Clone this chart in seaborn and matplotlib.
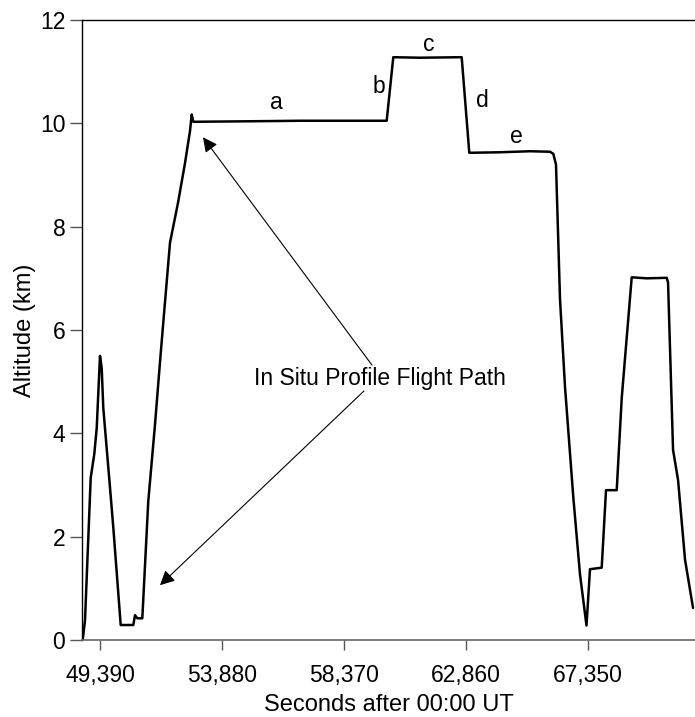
import pandas as pd
import seaborn as sns
import matplotlib.pyplot as plt

sns.set_theme(style="ticks")
plt.rcParams["font.family"] = ["Liberation Sans", "DejaVu Sans"]
plt.rcParams["text.color"] = "black"
plt.rcParams["axes.labelcolor"] = "black"
plt.rcParams["xtick.labelcolor"] = "black"
plt.rcParams["ytick.labelcolor"] = "black"

# flight track
seconds = [48753, 48838, 49048, 49180, 49269, 49390, 49453, 49511, 49758, 49879,
           50152, 50615, 50678, 50763, 50947, 51167, 51414, 51598, 51782, 51966,
           52260, 52518, 52702, 52765, 52823, 54910, 56750, 58590, 59940, 60183,
           61166, 62700, 62980, 64110, 65214, 65950, 66072, 66171, 66318, 66502,
           66808, 67054, 67293, 67422, 67853, 68011, 68405, 68589, 68957, 69510,
           70246, 70294, 70478, 70662, 70920, 71214]
altitude = [0.0, 0.38, 3.14, 3.6, 4.1, 5.5, 5.26, 4.49, 2.95, 2.18,
            0.29, 0.29, 0.48, 0.42, 0.42, 2.69, 4.17, 5.38, 6.54, 7.69,
            8.46, 9.23, 9.85, 10.17, 10.03, 10.04, 10.05, 10.05, 10.05, 11.28,
            11.27, 11.28, 9.43, 9.44, 9.46, 9.45, 9.41, 9.2, 6.6, 4.9,
            2.76, 1.27, 0.28, 1.37, 1.4, 2.9, 2.9, 4.68, 7.02, 7.0,
            7.01, 6.92, 3.68, 3.1, 1.55, 0.62]
xticks = [49390, 53880, 58370, 62860, 67350]
segments = ["a", "b", "c", "d", "e"]
seg_x = [55867, 59657, 61497, 63448, 64699]
seg_y = [10.4, 10.71, 11.53, 10.44, 9.74]

df = pd.DataFrame({"sec": seconds, "alt": altitude})

fig = plt.figure(figsize=(6.95, 7.17), dpi=100)
ax = fig.add_axes([0.118, 0.1074, 0.882, 0.8647])
sns.lineplot(data=df, x="sec", y="alt", sort=False, estimator=None,
             color="black", linewidth=1.8, ax=ax)

fs = 16.5
ax.set_xlim(48728, 71286)
ax.set_ylim(0, 12)
ax.set_xticks(xticks)
ax.set_xticklabels([f"{v:,}" for v in xticks])
ax.set_yticks(range(0, 13, 2))
ax.tick_params(axis="both", labelsize=fs, color="#555555", width=1)
ax.tick_params(axis="y", length=9, pad=3)
ax.tick_params(axis="x", length=7, pad=10)
ax.spines["right"].set_visible(False)
for s in ["left", "top"]:
    ax.spines[s].set_color("black")
    ax.spines[s].set_linewidth(1)
ax.spines["bottom"].set_color("#666666")
ax.spines["bottom"].set_linewidth(1.2)

ax.set_xlabel("Seconds after 00:00 UT", fontsize=17, labelpad=5)
ax.set_ylabel("Altitude (km)", fontsize=17, labelpad=3)

for lab, x, y in zip(segments, seg_x, seg_y):
    ax.text(x, y, lab, fontsize=fs, ha="center", va="center")

ax.text(59694, 5.07, "In Situ Profile Flight Path", fontsize=fs,
        ha="center", va="center")
arrow = dict(arrowstyle="-|>", color="black", lw=0.8, mutation_scale=22,
             shrinkA=0, shrinkB=0)
ax.annotate("", xy=(53180, 9.73), xytext=(59400, 5.32), arrowprops=arrow)
ax.annotate("", xy=(51598, 1.06), xytext=(59105, 4.82), arrowprops=arrow)

plt.savefig("out.png", dpi=100)
